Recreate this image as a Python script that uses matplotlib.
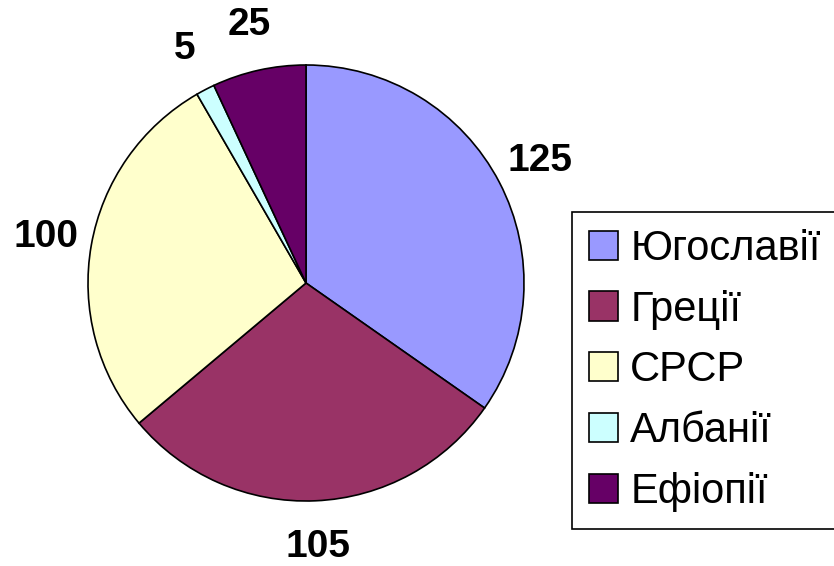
import matplotlib.pyplot as plt
from matplotlib.patches import Patch

# data
countries = ["Югославії", "Греції", "СРСР", "Албанії", "Ефіопії"]
values = [125, 105, 100, 5, 25]
colors = ["#9999FF", "#993366", "#FFFFCC", "#CCFFFF", "#660066"]

plt.rcParams['font.family'] = ['Liberation Sans', 'DejaVu Sans']

fig = plt.figure(figsize=(8.34, 5.66), dpi=100)
ax = fig.add_axes([88 / 834, 65 / 566, 436 / 834, 436 / 566])

wedges, texts = ax.pie(values, labels=[str(v) for v in values], colors=colors,
                       startangle=90, counterclock=False, labeldistance=1.21,
                       wedgeprops=dict(edgecolor="black", linewidth=1.2),
                       textprops=dict(fontsize=28, fontweight="bold"))
for t in texts:
    t.set_ha("center")
    t.set_va("center")
ax.set_xlim(-1, 1)
ax.set_ylim(-1, 1)
ax.set_aspect("equal")

handles = [Patch(facecolor=c, edgecolor="black", linewidth=1.2) for c in colors]
leg = fig.legend(handles, countries, loc="upper left",
                 bbox_to_anchor=(572 / 834, 1 - 212 / 566),
                 fontsize=30, fancybox=False, framealpha=1,
                 edgecolor="black", handlelength=0.7, handleheight=0.7,
                 handletextpad=0.3, labelspacing=0.5, borderpad=0.4,
                 borderaxespad=0)
leg.get_frame().set_linewidth(1.2)

plt.savefig("out.png", dpi=100)
